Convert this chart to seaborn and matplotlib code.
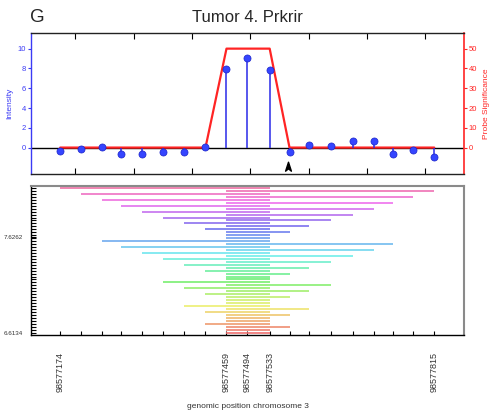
import colorsys
import numpy as np
import matplotlib
matplotlib.use("Agg")
import matplotlib.pyplot as plt
from matplotlib.path import Path
import seaborn as sns

# ---------------- data ----------------
positions = [98577174, 98577210, 98577246, 98577279, 98577315, 98577351, 98577387,
             98577423, 98577459, 98577494, 98577533, 98577567, 98577601, 98577638,
             98577676, 98577712, 98577745, 98577779, 98577815]
intensity = [-0.3, -0.1, 0.05, -0.6, -0.6, -0.4, -0.4, 0.1, 7.9, 9.1, 7.8,
             -0.4, 0.3, 0.15, 0.7, 0.7, -0.6, -0.25, -1.0]
significance = [0, 0, 0, 0, 0, 0, 0, 0, 50, 50, 50, 0, 0, 0, 0, 0, 0, 0, 0]
label_positions = [98577174, 98577459, 98577494, 98577533, 98577815]

# segments (start, end) listed top to bottom
seg_starts = [98577174, 98577459, 98577210, 98577459, 98577246, 98577459, 98577279, 98577459,
              98577315, 98577459, 98577351, 98577459, 98577387, 98577459, 98577423, 98577459,
              98577459, 98577459,
              98577246, 98577459, 98577279, 98577459, 98577315, 98577459, 98577351, 98577459,
              98577387, 98577459, 98577423, 98577459,
              98577459, 98577459,
              98577351, 98577459, 98577387, 98577459, 98577423, 98577459,
              98577459, 98577459,
              98577387, 98577459, 98577423, 98577459,
              98577459, 98577459,
              98577423, 98577459,
              98577459, 98577459]
seg_ends = [98577533, 98577815, 98577533, 98577779, 98577533, 98577745, 98577533, 98577712,
            98577533, 98577676, 98577533, 98577638, 98577533, 98577601, 98577533, 98577567,
            98577533, 98577533,
            98577533, 98577745, 98577533, 98577712, 98577533, 98577676, 98577533, 98577638,
            98577533, 98577601, 98577533, 98577567,
            98577533, 98577533,
            98577533, 98577638, 98577533, 98577601, 98577533, 98577567,
            98577533, 98577533,
            98577533, 98577601, 98577533, 98577567,
            98577533, 98577533,
            98577533, 98577567,
            98577533, 98577533]
ytick_labels = ["7.6262", "6.6134"]

# ---------------- style ----------------
sns.set_theme(style="white")
plt.rcParams["font.family"] = ["Liberation Sans", "DejaVu Sans"]
BLUE = "#3b3bf5"
RED = "#ff2424"

fig = plt.figure(figsize=(4.93, 4.15), dpi=100)
fig.patch.set_facecolor("white")
W, H = 493.0, 415.0
ax = fig.add_axes([31 / W, 1 - 174 / H, 433 / W, 141 / H])
ax2 = ax.twinx()
ax3 = fig.add_axes([31 / W, 1 - 335 / H, 433 / W, 149.3 / H])

xlim = (98577124, 98577866)

# ---------------- top panel ----------------
ax.set_zorder(ax2.get_zorder() + 1)
ax.patch.set_visible(False)
ax2.patch.set_visible(True)
ax2.patch.set_facecolor("white")

ax2.axhline(0, color="black", lw=1.0, zorder=1)
sns.lineplot(x=positions, y=significance, ax=ax2, color=RED, lw=1.6, zorder=2)
ax.vlines(positions, 0, intensity, color="#2a2ae8", lw=1.1, zorder=2)
sns.scatterplot(x=positions, y=intensity, ax=ax, s=26, color="#3545ff",
                edgecolor="#1c24c8", linewidth=0.5, zorder=3)

arrow = Path([(0, 1), (0.55, -0.7), (0, -0.25), (-0.55, -0.7), (0, 1)],
             [Path.MOVETO, Path.LINETO, Path.LINETO, Path.LINETO, Path.CLOSEPOLY])
ax.plot([positions[11] - 3], [-1.95], marker=arrow, ms=7.6, color="black",
        linestyle="none", zorder=4)

ax.set_xlim(*xlim)
ax.set_ylim(-2.67, 11.58)
ax2.set_ylim(-13.35, 57.9)
ax.set_xticks(list(range(98577200, 98577801, 100)))
ax.tick_params(axis="x", which="both", direction="in", top=True, bottom=True,
               length=4, width=0.8, color="black", labelbottom=False)
ax.set_yticks([0, 2, 4, 6, 8, 10])
ax.tick_params(axis="y", direction="out", left=True, length=2.5, width=0.8,
               colors=BLUE, labelsize=5.5, pad=1)
ax2.set_yticks([0, 10, 20, 30, 40, 50])
ax2.tick_params(axis="y", direction="out", right=True, length=2.5, width=0.8,
                colors=RED, labelsize=5.5, pad=1)
ax.set_ylabel("Intensity", color=BLUE, fontsize=6, labelpad=3)
ax2.set_ylabel("Probe Significance", color=RED, fontsize=6, labelpad=4)

for s in ["top", "bottom"]:
    ax.spines[s].set_color("#222222")
    ax.spines[s].set_linewidth(1.0)
ax.spines["left"].set_color(BLUE)
ax.spines["left"].set_linewidth(1.0)
ax.spines["right"].set_visible(False)
for s in ["top", "bottom", "left"]:
    ax2.spines[s].set_visible(False)
ax2.spines["right"].set_color(RED)
ax2.spines["right"].set_linewidth(1.2)

fig.text(247 / W, 1 - 17 / H, "Tumor 4. Prkrir", ha="center", va="center", fontsize=12)
fig.text(37 / W, 1 - 17 / H, "G", ha="center", va="center", fontsize=13.5)

# ---------------- bottom panel ----------------
n = len(seg_starts)
rows = np.arange(n)
hues = np.linspace(0.93, 0.0, n)
cols = [colorsys.hls_to_rgb(h, 0.69, 0.8) for h in hues]
ax3.hlines(rows, seg_starts, seg_ends, colors=cols, lw=1.2)

ax3.set_xlim(*xlim)
ax3.set_ylim(n - 0.17, -0.78)
ax3.set_xticks(positions)
ax3.set_xticklabels([str(p) if p in label_positions else "" for p in positions])
ax3.tick_params(axis="x", direction="in", bottom=True, length=3, width=0.8,
                color="black", labelsize=6.5, labelcolor="#333333",
                labelrotation=90, pad=12.5)
ax3.set_yticks(rows, minor=True)
ax3.set_yticks([16.5, n - 1])
ax3.set_yticklabels(ytick_labels)
ax3.tick_params(axis="y", which="both", direction="in", left=True, length=3.5,
                width=0.8, color="black", labelsize=4.5, labelcolor="#333333", pad=6)
ax3.set_xlabel("genomic position chromosome 3", fontsize=6, color="#333333", labelpad=8)
for s in ["top", "right"]:
    ax3.spines[s].set_color("#8a8a8a")
    ax3.spines[s].set_linewidth(1.5)
for s in ["left", "bottom"]:
    ax3.spines[s].set_color("black")
    ax3.spines[s].set_linewidth(1.0)

fig.savefig("out.png", dpi=100, facecolor="white")
